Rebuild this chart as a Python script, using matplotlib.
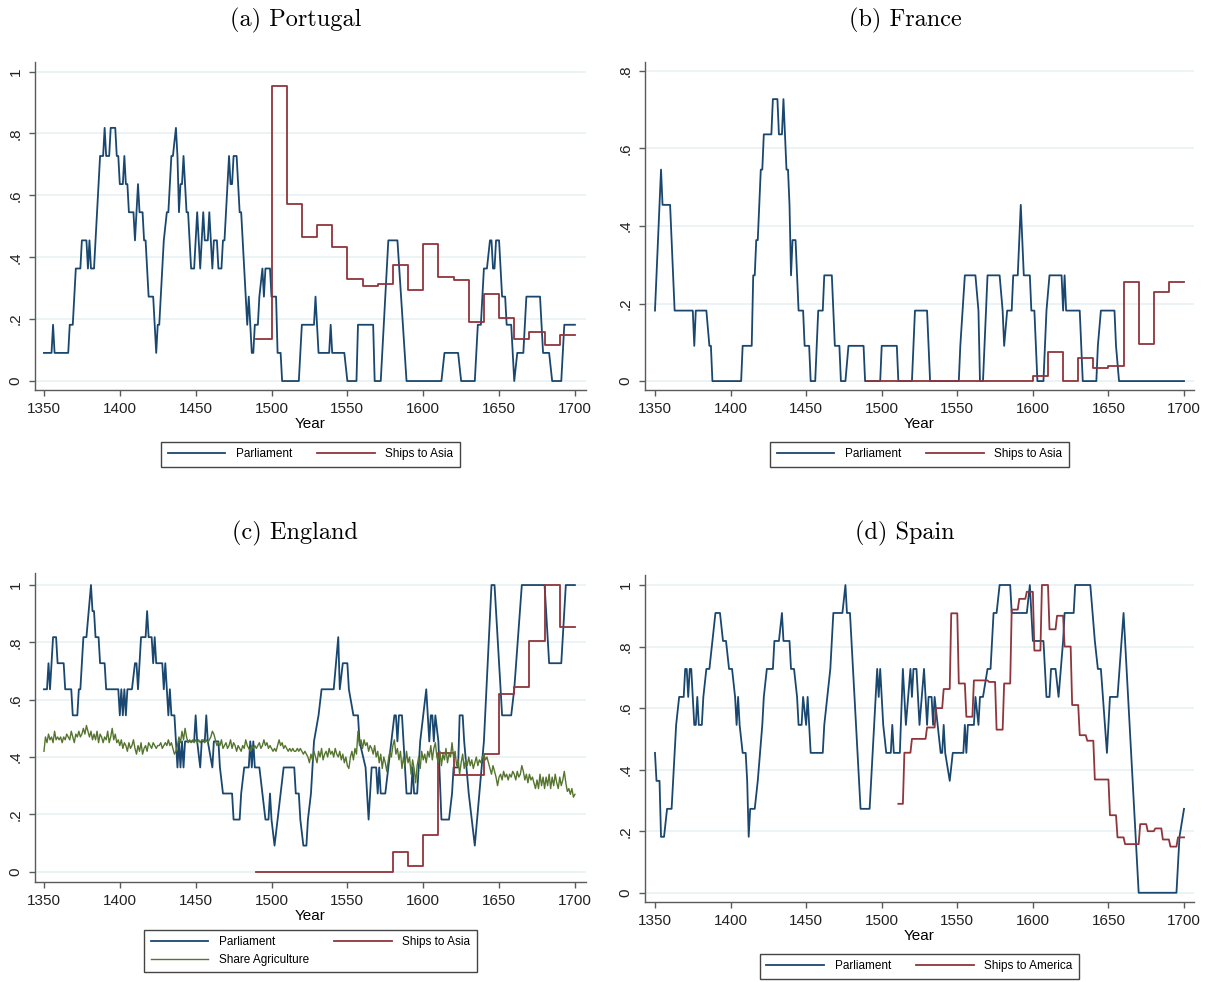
import numpy as np
import matplotlib
matplotlib.use("Agg")
import matplotlib.pyplot as plt
from matplotlib.lines import Line2D

NAVY = "#1a476f"
MAROON = "#90353b"
GREEN = "#55752f"
GRID = "#eaf2f3"
AXC = "#5a5a5a"
SANS = "Liberation Sans"

# Parliament: (year, meetings in 11-year window); plotted value = k / 11
por_parl = [(1350,1),(1355,1),(1356,2),(1357,1),(1366,1),(1367,2),(1369,2),(1371,4),(1374,4),(1375,5),
            (1378,5),(1379,4),(1380,5),(1381,4),(1383,4),(1385,6),(1387,8),(1389,8),(1390,9),(1391,8),
            (1393,8),(1394,9),(1397,9),(1398,8),(1399,8),(1400,7),(1402,7),(1403,8),(1404,7),(1405,7),
            (1406,6),(1409,6),(1410,5),(1411,6),(1412,7),(1413,6),(1415,6),(1416,5),(1417,5),(1419,3),
            (1422,3),(1423,2),(1424,1),(1425,2),(1426,2),(1428,4),(1429,5),(1431,6),(1432,6),(1434,8),
            (1435,8),(1437,9),(1438,8),(1439,6),(1440,7),(1441,7),(1442,8),(1444,6),(1445,6),(1447,4),
            (1449,4),(1451,6),(1453,4),(1455,6),(1456,5),(1458,5),(1459,6),(1461,4),(1462,5),(1464,5),
            (1465,4),(1467,4),(1468,5),(1469,5),(1470,6),(1472,8),(1473,7),(1474,7),(1475,8),(1477,8),
            (1478,7),(1479,6),(1480,6),(1481,5),(1482,4),(1483,3),(1484,2),(1485,3),(1486,2),(1487,1),
            (1488,1),(1489,2),(1491,2),(1492,3),(1494,4),(1495,3),(1496,4),(1499,4),(1500,3),(1503,3),
            (1504,1),(1506,1),(1507,0),(1518,0),(1520,2),(1528,2),(1529,3),(1531,1),(1538,1),(1539,2),
            (1540,1),(1548,1),(1550,0),(1556,0),(1557,2),(1567,2),(1568,0),(1572,0),(1577,5),(1583,5),
            (1589,0),(1612,0),(1614,1),(1623,1),(1625,0),(1634,0),(1636,2),(1638,2),(1640,4),(1642,4),
            (1644,5),(1645,5),(1646,4),(1647,4),(1648,5),(1650,5),(1652,3),(1654,3),(1655,2),(1658,2),
            (1660,0),(1662,1),(1666,1),(1668,3),(1677,3),(1679,1),(1683,1),(1685,0),(1691,0),(1693,2),
            (1700,2)]

fra_parl = [(1350,2),(1354,6),(1355,5),(1360,5),(1363,2),(1375,2),(1376,1),(1377,2),(1384,2),(1386,1),
            (1387,1),(1388,0),(1407,0),(1408,1),(1414,1),(1415,3),(1416,3),(1417,4),(1418,4),(1420,6),
            (1421,6),(1422,7),(1427,7),(1428,8),(1431,8),(1432,7),(1434,7),(1435,8),(1436,7),(1437,6),
            (1438,6),(1439,5),(1440,3),(1441,4),(1443,4),(1445,2),(1448,2),(1449,1),(1452,1),(1453,0),
            (1456,0),(1458,2),(1461,2),(1462,3),(1467,3),(1469,1),(1472,1),(1473,0),(1476,0),(1478,1),
            (1488,1),(1489,0),(1499,0),(1500,1),(1510,1),(1511,0),(1520,0),(1522,2),(1530,2),(1532,0),
            (1551,0),(1552,1),(1555,3),(1562,3),(1564,2),(1565,0),(1567,0),(1570,3),(1578,3),(1580,2),
            (1581,1),(1583,2),(1586,2),(1587,3),(1590,3),(1592,5),(1594,3),(1598,3),(1599,2),(1601,2),
            (1603,0),(1607,0),(1609,2),(1611,3),(1619,3),(1620,2),(1621,3),(1622,2),(1631,2),(1633,0),
            (1642,0),(1643,1),(1645,2),(1654,2),(1655,1),(1657,0),(1700,0)]

eng_parl = [(1350,7),(1352,7),(1353,8),(1354,7),(1356,9),(1358,9),(1359,8),(1363,8),(1364,7),(1368,7),
            (1369,6),(1372,6),(1373,7),(1374,7),(1376,9),(1378,9),(1381,11),(1382,10),(1383,10),(1384,9),
            (1386,9),(1387,8),(1390,8),(1391,7),(1399,7),(1400,6),(1401,7),(1402,6),(1403,7),(1404,6),
            (1405,7),(1406,7),(1408,7),(1410,8),(1411,8),(1412,7),(1413,8),(1414,9),(1417,9),(1418,10),
            (1419,9),(1421,9),(1422,8),(1423,9),(1424,8),(1428,8),(1429,7),(1430,8),(1431,7),(1432,6),
            (1433,7),(1434,6),(1436,6),(1437,5),(1438,4),(1439,5),(1440,4),(1441,5),(1442,4),(1443,5),
            (1449,5),(1450,6),(1451,5),(1453,4),(1454,5),(1456,5),(1457,6),(1458,5),(1461,4),(1462,5),
            (1465,5),(1466,4),(1468,3),(1474,3),(1475,2),(1479,2),(1480,3),(1482,4),(1485,4),(1486,5),
            (1487,4),(1488,5),(1489,4),(1492,4),(1494,3),(1496,2),(1498,2),(1499,3),(1500,2),(1502,1),
            (1504,2),(1506,3),(1508,4),(1515,4),(1516,3),(1518,3),(1519,2),(1521,1),(1523,1),(1524,2),
            (1526,3),(1528,5),(1531,6),(1533,7),(1541,7),(1544,9),(1545,7),(1547,8),(1550,8),(1551,7),
            (1554,6),(1557,6),(1558,5),(1562,4),(1564,2),(1566,4),(1569,4),(1570,3),(1571,4),(1572,3),
            (1575,3),(1581,6),(1582,6),(1583,5),(1584,6),(1586,6),(1587,5),(1588,4),(1589,3),(1592,3),
            (1593,4),(1594,3),(1596,3),(1597,4),(1598,5),(1602,7),(1603,6),(1604,5),(1605,6),(1606,6),
            (1607,5),(1608,6),(1610,5),(1612,2),(1617,2),(1619,3),(1620,4),(1623,4),(1624,6),(1626,6),
            (1627,5),(1630,3),(1632,2),(1634,1),(1637,3),(1640,5),(1645,11),(1647,11),(1652,6),(1658,6),
            (1660,7),(1665,11),(1680,11),(1683,8),(1691,8),(1694,11),(1700,11)]

esp_parl = [(1350,5),(1351,4),(1353,4),(1354,2),(1356,2),(1358,3),(1361,3),(1362,4),(1364,6),(1366,7),
            (1369,7),(1370,8),(1371,8),(1372,7),(1373,8),(1374,8),(1375,7),(1376,6),(1377,6),(1378,7),
            (1379,6),(1381,6),(1382,7),(1384,8),(1386,8),(1388,9),(1390,10),(1393,10),(1395,9),(1397,9),
            (1399,8),(1401,8),(1403,7),(1404,6),(1405,7),(1406,6),(1408,5),(1410,5),(1411,4),(1412,2),
            (1413,3),(1416,3),(1418,4),(1421,6),(1422,7),(1424,8),(1428,8),(1429,9),(1432,9),(1434,10),
            (1435,9),(1439,9),(1440,8),(1442,8),(1444,7),(1445,6),(1447,6),(1448,7),(1450,6),(1451,7),
            (1453,5),(1461,5),(1462,6),(1464,7),(1466,8),(1467,9),(1468,10),(1474,10),(1476,11),(1477,10),
            (1479,10),(1486,3),(1492,3),(1494,5),(1495,6),(1497,8),(1498,7),(1499,8),(1500,7),(1501,6),
            (1503,5),(1506,5),(1507,6),(1508,5),(1512,5),(1514,8),(1516,6),(1519,8),(1520,7),(1521,8),
            (1523,8),(1525,6),(1528,8),(1530,6),(1531,7),(1533,7),(1534,6),(1535,7),(1537,6),(1539,5),
            (1540,5),(1541,6),(1542,5),(1545,4),(1547,5),(1554,5),(1555,6),(1556,5),(1557,6),(1561,6),
            (1562,7),(1564,6),(1565,7),(1567,7),(1570,8),(1572,8),(1574,10),(1576,10),(1578,11),(1585,11),
            (1586,10),(1596,10),(1598,11),(1600,9),(1607,9),(1609,7),(1611,7),(1612,8),(1615,8),(1617,7),
            (1620,9),(1621,10),(1627,10),(1628,11),(1638,11),(1641,9),(1643,8),(1645,8),(1649,5),(1651,7),
            (1656,7),(1660,10),(1664,6),(1670,0),(1695,0),(1697,2),(1700,3)]

# Ships to Asia, by decade (1490 ... 1690), held until 1700
ship_decades = list(range(1490, 1700, 10))
por_ships = [0.135, 0.955, 0.572, 0.464, 0.505, 0.432, 0.331, 0.306, 0.312, 0.376, 0.294,
             0.442, 0.337, 0.327, 0.191, 0.280, 0.205, 0.135, 0.159, 0.115, 0.148]
fra_ships = [0, 0, 0, 0, 0, 0, 0, 0, 0, 0, 0,
             0.014, 0.076, 0, 0.059, 0.033, 0.040, 0.256, 0.096, 0.229, 0.256]
eng_ships = [0, 0, 0, 0, 0, 0, 0, 0, 0, 0.070, 0.021,
             0.128, 0.414, 0.337, 0.337, 0.409, 0.619, 0.643, 0.805, 1.0, 0.855]

# Ships to America (Spain)
esp_ships = [(1511,0.289),(1514,0.289),(1515,0.455),(1519,0.455),(1520,0.50),(1529,0.50),(1530,0.537),
             (1535,0.537),(1536,0.60),(1540,0.60),(1541,0.662),(1545,0.662),(1546,0.908),(1550,0.908),
             (1551,0.68),(1555,0.68),(1556,0.572),(1560,0.572),(1561,0.69),(1570,0.69),(1571,0.685),
             (1575,0.685),(1576,0.53),(1580,0.53),(1581,0.68),(1585,0.68),(1586,0.92),(1590,0.92),
             (1591,0.955),(1595,0.955),(1596,0.978),(1600,0.978),(1601,0.787),(1605,0.787),(1606,1.0),
             (1610,1.0),(1611,0.856),(1615,0.856),(1616,0.90),(1620,0.90),(1621,0.80),(1625,0.80),
             (1626,0.61),(1630,0.61),(1631,0.512),(1635,0.512),(1636,0.494),(1640,0.494),(1641,0.368),
             (1650,0.368),(1651,0.252),(1655,0.252),(1656,0.18),(1660,0.18),(1661,0.158),(1670,0.158),
             (1671,0.223),(1675,0.223),(1676,0.20),(1680,0.20),(1681,0.209),(1685,0.209),(1686,0.173),
             (1690,0.173),(1691,0.15),(1695,0.15),(1696,0.18),(1700,0.18)]

# England share of agriculture, annual 1350-1700
eng_agri_years = list(range(1350, 1701))
eng_agri = [
    0.42, 0.47, 0.45, 0.48, 0.46, 0.47, 0.45, 0.49, 0.46, 0.47,
    0.46, 0.47, 0.45, 0.47, 0.46, 0.48, 0.47, 0.46, 0.49, 0.47,
    0.45, 0.48, 0.47, 0.49, 0.47, 0.48, 0.50, 0.48, 0.51, 0.49,
    0.47, 0.49, 0.46, 0.48, 0.46, 0.49, 0.45, 0.48, 0.47, 0.45,
    0.47, 0.46, 0.49, 0.45, 0.47, 0.50, 0.46, 0.48, 0.45, 0.46,
    0.44, 0.46, 0.43, 0.45, 0.44, 0.42, 0.45, 0.43, 0.44, 0.46,
    0.43, 0.41, 0.44, 0.42, 0.45, 0.41, 0.43, 0.44, 0.42, 0.45,
    0.44, 0.43, 0.45, 0.44, 0.43, 0.44, 0.44, 0.45, 0.43, 0.44,
    0.45, 0.44, 0.46, 0.44, 0.45, 0.43, 0.41, 0.42, 0.44, 0.47,
    0.45, 0.49, 0.46, 0.50, 0.47, 0.45, 0.46, 0.45, 0.46, 0.45,
    0.46, 0.45, 0.46, 0.45, 0.46, 0.46, 0.45, 0.46, 0.45, 0.46,
    0.47, 0.49, 0.48, 0.46, 0.44, 0.45, 0.44, 0.46, 0.43, 0.44,
    0.45, 0.43, 0.44, 0.46, 0.43, 0.45, 0.44, 0.42, 0.44, 0.43,
    0.42, 0.44, 0.43, 0.46, 0.44, 0.43, 0.42, 0.44, 0.43, 0.44,
    0.43, 0.44, 0.45, 0.43, 0.44, 0.46, 0.44, 0.45, 0.43, 0.44,
    0.43, 0.42, 0.43, 0.42, 0.44, 0.46, 0.44, 0.45, 0.43, 0.44,
    0.43, 0.42, 0.43, 0.42, 0.43, 0.42, 0.42, 0.43, 0.42, 0.43,
    0.42, 0.41, 0.42, 0.41, 0.40, 0.38, 0.41, 0.39, 0.42, 0.40,
    0.38, 0.42, 0.40, 0.43, 0.39, 0.41, 0.42, 0.40, 0.43, 0.41,
    0.42, 0.40, 0.43, 0.41, 0.40, 0.42, 0.39, 0.41, 0.38, 0.40,
    0.37, 0.36, 0.40, 0.42, 0.39, 0.43, 0.41, 0.49, 0.44, 0.46,
    0.43, 0.46, 0.44, 0.45, 0.42, 0.44, 0.43, 0.41, 0.44, 0.40,
    0.42, 0.38, 0.41, 0.36, 0.40, 0.38, 0.35, 0.39, 0.42, 0.40,
    0.44, 0.46, 0.41, 0.43, 0.39, 0.42, 0.36, 0.40, 0.37, 0.42,
    0.38, 0.40, 0.34, 0.39, 0.36, 0.31, 0.37, 0.40, 0.36, 0.42,
    0.39, 0.41, 0.38, 0.42, 0.40, 0.44, 0.39, 0.43, 0.45, 0.40,
    0.38, 0.42, 0.37, 0.41, 0.39, 0.43, 0.38, 0.41, 0.40, 0.45,
    0.40, 0.42, 0.37, 0.39, 0.34, 0.38, 0.41, 0.36, 0.39, 0.37,
    0.40, 0.37, 0.39, 0.36, 0.38, 0.40, 0.37, 0.39, 0.38, 0.40,
    0.41, 0.39, 0.40, 0.38, 0.36, 0.34, 0.37, 0.35, 0.33, 0.30,
    0.33, 0.34, 0.32, 0.35, 0.33, 0.34, 0.32, 0.34, 0.33, 0.35,
    0.34, 0.32, 0.35, 0.33, 0.34, 0.37, 0.35, 0.32, 0.34, 0.31,
    0.34, 0.32, 0.33, 0.31, 0.29, 0.32, 0.29, 0.34, 0.30, 0.33,
    0.29, 0.33, 0.30, 0.34, 0.29, 0.33, 0.30, 0.34, 0.31, 0.29,
    0.33, 0.30, 0.32, 0.35, 0.31, 0.28, 0.29, 0.27, 0.29, 0.26,
    0.27]

x_ticks = [1350, 1400, 1450, 1500, 1550, 1600, 1650, 1700]


def plot_parl(ax, pairs):
    yrs, k = zip(*pairs)
    ax.plot(yrs, np.array(k) / 11.0, color=NAVY, lw=1.3)


def plot_decade_ships(ax, vals):
    yrs = ship_decades + [1700]
    ax.plot(yrs, vals + [vals[-1]], color=MAROON, lw=1.3, drawstyle="steps-post")


def style(ax, xlim, ylim, yticks, ylabels):
    ax.set_xlim(*xlim)
    ax.set_ylim(*ylim)
    ax.set_xticks(x_ticks)
    ax.set_xticklabels([str(t) for t in x_ticks], fontsize=11, family=SANS)
    ax.set_yticks(yticks)
    ax.set_yticklabels(ylabels, rotation=90, va="center", fontsize=11, family=SANS)
    for s in ["top", "right"]:
        ax.spines[s].set_visible(False)
    for s in ["left", "bottom"]:
        ax.spines[s].set_color(AXC)
        ax.spines[s].set_linewidth(1.0)
    ax.tick_params(axis="both", direction="out", length=4, width=1.0, color=AXC, labelcolor="#222222")
    ax.tick_params(axis="x", pad=4.5)
    ax.tick_params(axis="y", pad=5)
    ax.grid(axis="y", color=GRID, lw=1.3)
    ax.set_axisbelow(True)
    ax.set_xlabel("Year", fontsize=11, family=SANS, labelpad=1)


def add_legend(ax, handles, labels, y):
    leg = ax.legend(handles, labels, loc="upper center", bbox_to_anchor=(0.5, y), ncol=2,
                    prop={"family": SANS, "size": 8.5}, frameon=True, fancybox=False,
                    edgecolor="#444444", framealpha=1, borderaxespad=0, borderpad=0.55,
                    handlelength=4.9, handletextpad=0.9, columnspacing=2.1, labelspacing=0.45)
    leg.get_frame().set_linewidth(1.0)


fig = plt.figure(figsize=(12.08, 9.82), dpi=100)
fig.patch.set_facecolor("white")

W, H = 1208.0, 982.0
ax_a = fig.add_axes([35 / W, 1 - 390 / H, 551 / W, 328 / H])
ax_b = fig.add_axes([645 / W, 1 - 390 / H, 549 / W, 328 / H])
ax_c = fig.add_axes([35 / W, 1 - 882 / H, 551 / W, 309 / H])
ax_d = fig.add_axes([645 / W, 1 - 902 / H, 549 / W, 327 / H])

yt1 = [0, 0.2, 0.4, 0.6, 0.8, 1.0]
yl1 = ["0", ".2", ".4", ".6", ".8", "1"]

def h(c, lw=1.3):
    return Line2D([0], [0], color=c, lw=lw)

# (a) Portugal
plot_parl(ax_a, por_parl)
plot_decade_ships(ax_a, por_ships)
style(ax_a, (1344.1, 1707.3), (-0.029, 1.031), yt1, yl1)
add_legend(ax_a, [h(NAVY), h(MAROON)], ["Parliament", "Ships to Asia"], -0.158)

# (b) France
plot_parl(ax_b, fra_parl)
plot_decade_ships(ax_b, fra_ships)
style(ax_b, (1343.4, 1706.6), (-0.023, 0.823), [0, 0.2, 0.4, 0.6, 0.8], ["0", ".2", ".4", ".6", ".8"])
add_legend(ax_b, [h(NAVY), h(MAROON)], ["Parliament", "Ships to Asia"], -0.158)

# (c) England
plot_parl(ax_c, eng_parl)
plot_decade_ships(ax_c, eng_ships)
ax_c.plot(eng_agri_years, eng_agri, color=GREEN, lw=1.0)
style(ax_c, (1344.1, 1707.3), (-0.036, 1.042), yt1, yl1)
add_legend(ax_c, [h(NAVY), h(GREEN, 1.0), h(MAROON)],
           ["Parliament", "Share Agriculture", "Ships to Asia"], -0.155)

# (d) Spain
plot_parl(ax_d, esp_parl)
ey, ev = zip(*esp_ships)
ax_d.plot(ey, ev, color=MAROON, lw=1.3)
style(ax_d, (1343.4, 1706.6), (-0.030, 1.0325), yt1, yl1)
add_legend(ax_d, [h(NAVY), h(MAROON)], ["Parliament", "Ships to America"], -0.159)

tkw = dict(family="cmr10", fontsize=17.5, ha="center", va="center")
fig.text(296 / W, 1 - 20 / H, "(a) Portugal", **tkw)
fig.text(905 / W, 1 - 20 / H, "(b) France", **tkw)
fig.text(295 / W, 1 - 533 / H, "(c) England", **tkw)
fig.text(905 / W, 1 - 533 / H, "(d) Spain", **tkw)

fig.savefig("out.png", dpi=100, facecolor="white")
